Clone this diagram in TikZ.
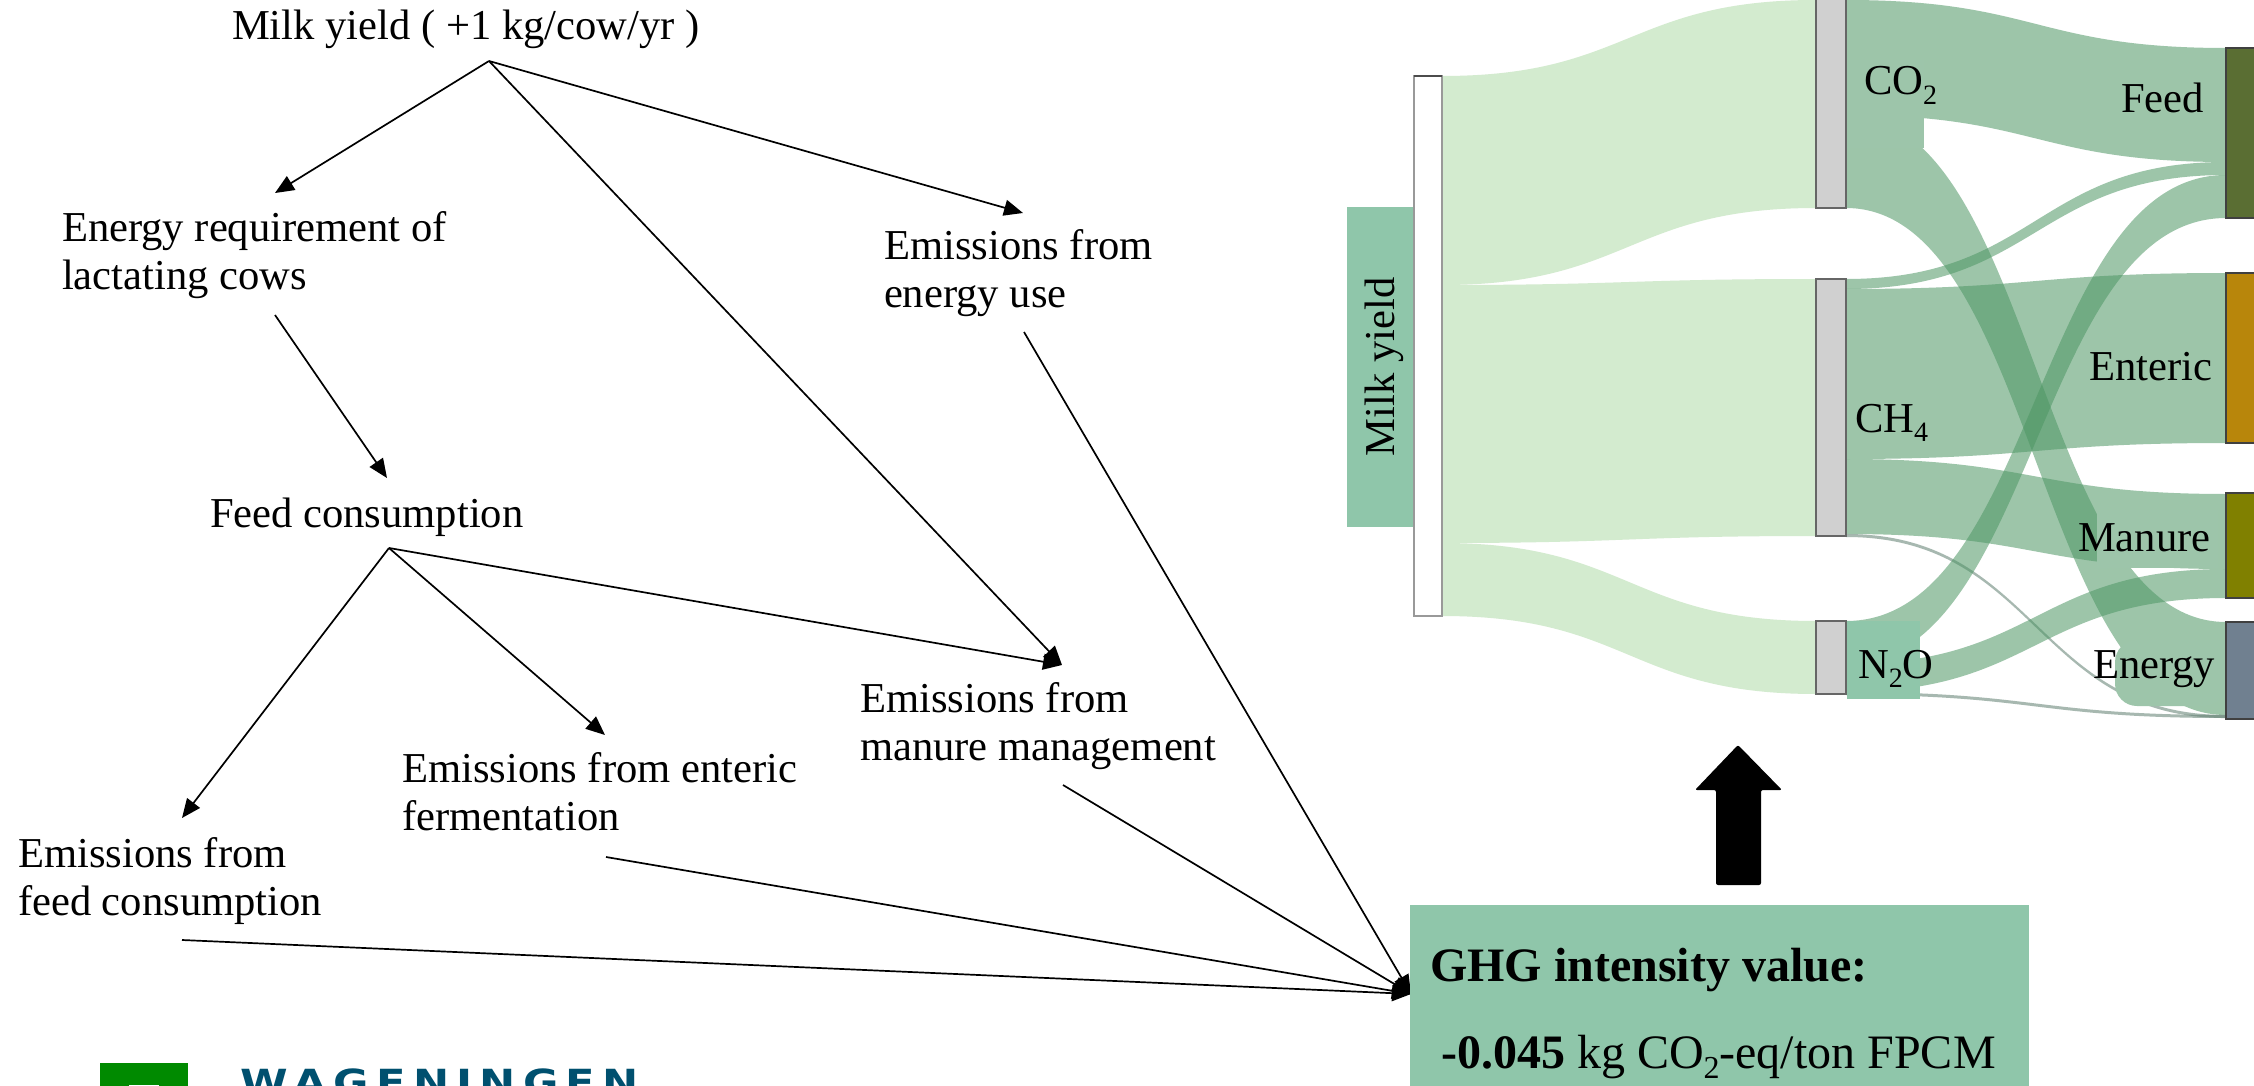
\documentclass[tikz,border=0pt]{standalone}
\usepackage{fontspec}
\setmainfont{Liberation Serif}
\newfontfamily\logofont[LetterSpace=20,FakeStretch=1.2]{DejaVu Sans Bold}
\usetikzlibrary{arrows.meta}
\definecolor{lightflow}{HTML}{D3EBCF}
\definecolor{darkflow}{HTML}{4D9664}
\definecolor{flowsolid}{HTML}{9DC5AA}
\definecolor{boxgreen}{HTML}{8FC6AA}
\definecolor{barfill}{HTML}{D0D0D0}
\definecolor{feedc}{HTML}{5A6E33}
\definecolor{entc}{HTML}{B8860B}
\definecolor{manc}{HTML}{808000}
\definecolor{enec}{HTML}{708090}
\definecolor{logoblue}{HTML}{00506F}
\definecolor{logogreen}{HTML}{008A00}
\definecolor{thinflow}{HTML}{5F7F70}
\tikzset{
  txt/.style={anchor=base west,inner sep=0pt,outer sep=0pt,align=left,font=\fontsize{42.6}{48}\selectfont},
  bigtxt/.style={anchor=base west,inner sep=0pt,outer sep=0pt,font=\fontsize{48}{56}\selectfont},
  arr/.style={line width=1.7pt,-{Triangle[length=19pt,width=16pt]}},
  light/.style={fill=lightflow},
  dark/.style={fill=darkflow,fill opacity=.55},
  thin/.style={fill=thinflow,fill opacity=.55},
  labelbg/.style={fill=flowsolid},
  stagebar/.style={fill=barfill,draw=black!60,line width=1.5pt},
  endbar/.style={draw=black!75,line width=1.5pt},
}
\newcommand{\sband}[7]{%
  \fill[#1] (#2,#4) .. controls ({(#2+#3)/2},#4) and ({(#2+#3)/2},#5) .. (#3,#5)
    -- (#3,#7) .. controls ({(#2+#3)/2},#7) and ({(#2+#3)/2},#6) .. (#2,#6) -- cycle;}
\newcommand{\sbs}[1]{\raisebox{-0.22em}{\fontsize{28}{28}\selectfont #1}}
\newcommand{\sbb}[1]{\raisebox{-0.22em}{\fontsize{32}{32}\selectfont #1}}
\begin{document}
\begin{tikzpicture}[x=1pt,y=-1pt]
\useasboundingbox (0,0) rectangle (2254,1086);
\clip (0,0) rectangle (2254,1086);
\fill[white] (0,0) rectangle (2254,1086);
% left hand tree
\node[txt] (milk) at (232,40) {Milk yield ( +1 kg/cow/yr )};
\node[txt] (ereq) at (62,289) {Energy requirement of\\lactating cows};
\node[txt] (euse) at (884,307) {Emissions from\\energy use};
\node[txt] (feedc) at (210,527) {Feed consumption};
\node[txt] (mman) at (860,760) {Emissions from\\manure management};
\node[txt] (ent) at (402,830) {Emissions from enteric\\fermentation};
\node[txt] (fem) at (18,915) {Emissions from\\feed consumption};
\coordinate (milkout) at (489,61);
\coordinate (ereqin) at (275,193);
\coordinate (ereqout) at (275,315);
\coordinate (euseln) at (1023,213);
\coordinate (euseout) at (1024,332);
\coordinate (feedin) at (387,478);
\coordinate (feedout) at (389,548);
\coordinate (mmanin) at (1062,665);
\coordinate (mmanout) at (1063,785);
\coordinate (entin) at (605,735);
\coordinate (entout) at (606,857);
\coordinate (femin) at (182,818);
\coordinate (femout) at (182,940);
\coordinate (ghgin) at (1411,994);
\draw[arr] (milkout) -- (ereqin);
\draw[arr] (milkout) -- (euseln);
\draw[arr] (milkout) -- (mmanin);
\draw[arr] (ereqout) -- (feedin);
\draw[arr] (feedout) -- (mmanin);
\draw[arr] (feedout) -- (entin);
\draw[arr] (feedout) -- (femin);
\draw[arr] (euseout) -- (ghgin);
\draw[arr] (mmanout) -- (ghgin);
\draw[arr] (entout) -- (ghgin);
\draw[arr] (femout) -- (ghgin);
% sankey: milk yield to gases
\sband{light}{1442}{1816}{76}{0}{285}{208}
\sband{light}{1442}{1816}{285}{279}{543}{536}
\sband{light}{1442}{1816}{543}{621}{616}{694}
% sankey: gases to sources
\sband{dark}{1846}{2226}{0}{48}{115}{162}
\sband{dark}{1846}{2226}{115}{622}{208}{715}
\sband{dark}{1846}{2226}{279}{162}{289}{175}
\sband{dark}{1846}{2226}{289}{273}{459}{443}
\sband{dark}{1846}{2226}{459}{494}{534}{569}
\sband{thin}{1846}{2226}{534}{715}{537}{718}
\sband{dark}{1846}{2226}{621}{175}{664}{218}
\sband{dark}{1846}{2226}{664}{569}{692}{598}
\sband{thin}{1846}{2226}{692}{715}{695}{718}
% label backgrounds
\fill[labelbg] (1846,60) rectangle (1924,148);
\fill[labelbg] (2097,510) rectangle (2218,568);
\fill[labelbg,rounded corners=22pt] (2115,640) rectangle (2226,706);
\fill[labelbg] (2150,640) rectangle (2226,690);
\fill[boxgreen] (1847,621) rectangle (1920,699);
% bars
\draw[fill=white,draw=black!40,line width=1.5pt] (1414,76) rectangle (1442,616);
\draw[black!70,line width=2.5pt] (1414,76) -- (1442,76);
\draw[stagebar] (1816,-5) rectangle (1846,208);
\draw[stagebar] (1816,279) rectangle (1846,536);
\draw[stagebar] (1816,621) rectangle (1846,694);
\draw[endbar,fill=feedc] (2226,48) rectangle (2262,218);
\draw[endbar,fill=entc] (2226,273) rectangle (2262,443);
\draw[endbar,fill=manc] (2226,493) rectangle (2262,598);
\draw[endbar,fill=enec] (2226,622) rectangle (2262,719);
% milk yield tab
\fill[boxgreen] (1347,207) rectangle (1413,527);
\node[txt,rotate=90] (milkv) at (1394,456) {Milk yield};
% sankey labels
\node[txt] (lco) at (1864,95) {CO\sbs{2}};
\node[txt] (lch) at (1855,432) {CH\sbs{4}};
\node[txt] (lno) at (1858,678) {N\sbs{2}O};
\node[txt] (lfeed) at (2121,113) {Feed};
\node[txt] (lent) at (2089,380) {Enteric};
\node[txt] (lman) at (2078,551) {Manure};
\node[txt] (lene) at (2093,678) {Energy};
% block arrow
\fill[black,rounded corners=2pt] (1738,745) -- (1782,790) -- (1761,790) -- (1761,885) -- (1716,885) -- (1716,790) -- (1695,790) -- cycle;
% ghg box
\fill[boxgreen] (1410,905) rectangle (2029,1086);
\node[bigtxt] (ghg) at (1430,981) {\textbf{GHG intensity value:}};
\node[bigtxt] (ghgv) at (1441,1068) {\textbf{-0.045} kg CO\sbb{2}-eq/ton FPCM};
% logo
\fill[logogreen] (100,1063) rectangle (188,1090);
\fill[white] (129,1085) rectangle (159,1090);
\node[anchor=base west,inner sep=0pt,text=logoblue,font=\logofont\fontsize{36}{36}\selectfont] (logo) at (240,1095) {WAGENINGEN};
\end{tikzpicture}
\end{document}
